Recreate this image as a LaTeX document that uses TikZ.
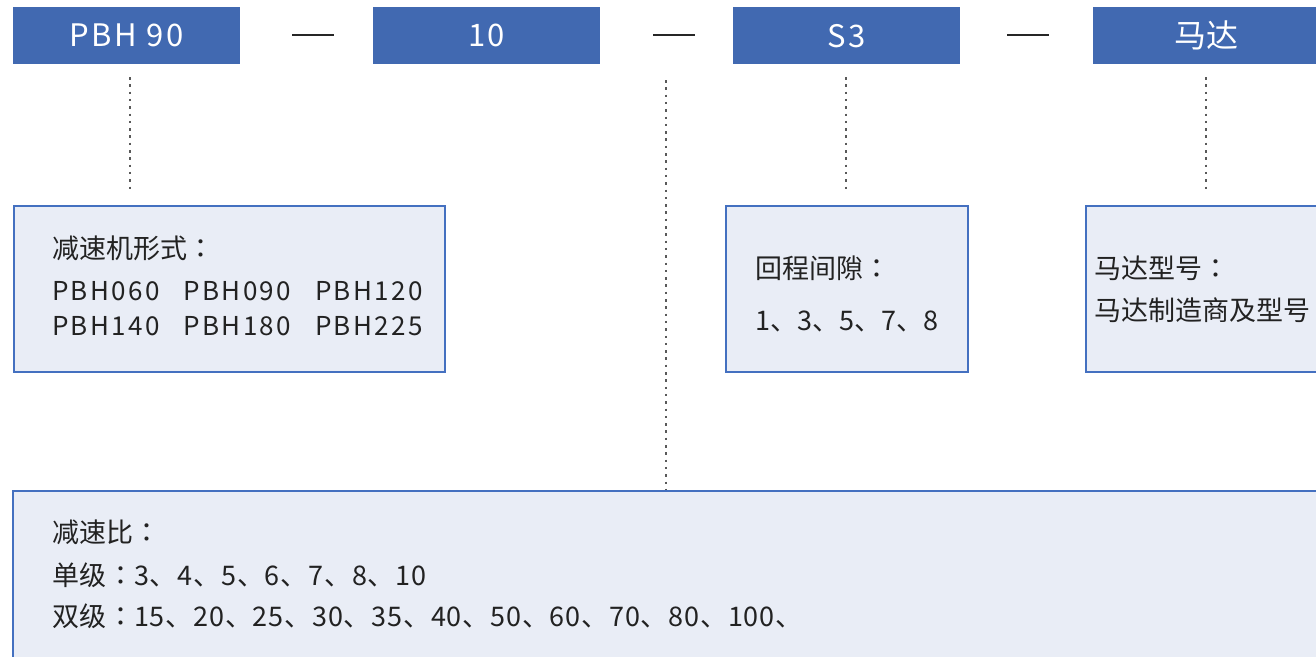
\documentclass[tikz,border=0pt]{standalone}
\usepackage{fontspec}
\setmainfont{Noto Sans CJK SC}
\newfontfamily\tcfont{Noto Sans CJK TC}
\newcommand{\cco}{{\tcfont ：}}
\definecolor{hdr}{HTML}{4169B1}
\definecolor{boxfill}{HTML}{E9EDF6}
\definecolor{boxline}{HTML}{4470C0}
\definecolor{txt}{HTML}{222222}
\tikzset{
  hdrbox/.style={fill=hdr, minimum width=227pt, minimum height=57pt, inner sep=0pt,
    text=white, font=\fontsize{31}{36}\selectfont\addfontfeature{LetterSpace=8}, anchor=north west},
  infobox/.style={draw=boxline, fill=boxfill, line width=1.6pt, inner sep=0pt, anchor=north west},
  infotext/.style={anchor=base west, inner sep=0pt, text=txt, font=\fontsize{27}{31}\selectfont},
  dotline/.style={draw=black!65, line width=1.3pt, dash pattern=on 2.5pt off 4.8pt},
  dashline/.style={draw=black!85, line width=1.2pt}
}
\begin{document}
\begin{tikzpicture}[x=1pt,y=-1pt]
\useasboundingbox (0,0) rectangle (1316,656);
\clip (0,0) rectangle (1316,656);
% header boxes
\node[hdrbox] (h1) at (13,7) {PBH 90};
\node[hdrbox] (h2) at (373,7) {10};
\node[hdrbox] (h3) at (733,7) {S3};
\node[hdrbox, minimum width=260pt, font=\fontsize{32}{36}\selectfont] (h4) at (1093,7) {\hspace*{-33pt}马达};
% separators
\coordinate (s1a) at (292,35); \coordinate (s1b) at (334,35);
\coordinate (s2a) at (653,35); \coordinate (s2b) at (695,35);
\coordinate (s3a) at (1007,35); \coordinate (s3b) at (1049,35);
\draw[dashline] (s1a) -- (s1b);
\draw[dashline] (s2a) -- (s2b);
\draw[dashline] (s3a) -- (s3b);
% info boxes
\node[infobox, minimum width=431pt, minimum height=166pt] (bA) at (13,205) {};
\node[infobox, minimum width=242pt, minimum height=166pt] (bB) at (725,205) {};
\node[infobox, minimum width=260pt, minimum height=166pt] (bC) at (1085,205) {};
\node[infobox, minimum width=1340pt, minimum height=200pt] (bD) at (12,490) {};
% dotted connectors
\coordinate (d1a) at (130,77); \coordinate (d1b) at (130,190);
\coordinate (d2a) at (666,80); \coordinate (d2b) at (666,489);
\coordinate (d3a) at (846,77); \coordinate (d3b) at (846,190);
\coordinate (d4a) at (1206,77); \coordinate (d4b) at (1206,190);
\draw[dotline] (d1a) -- (d1b);
\draw[dotline] (d2a) -- (d2b);
\draw[dotline] (d3a) -- (d3b);
\draw[dotline] (d4a) -- (d4b);
% texts
\node[infotext] (tA1) at (52,258) {减速机形式\cco};
\node[infotext, font=\fontsize{26}{30}\selectfont\addfontfeature{LetterSpace=9}] (tA2) at (52,300) {PBH060\hspace{24pt}PBH090\hspace{24pt}PBH120};
\node[infotext, font=\fontsize{26}{30}\selectfont\addfontfeature{LetterSpace=9}] (tA3) at (52,335) {PBH140\hspace{24pt}PBH180\hspace{24pt}PBH225};
\node[infotext] (tB1) at (755,278) {回程间隙\cco};
\node[infotext] (tB2) at (755,330) {1、3、5、7、8};
\node[infotext] (tC1) at (1094,278) {马达型号\cco};
\node[infotext] (tC2) at (1094,320) {马达制造商及型号};
\node[infotext] (tD1) at (52,542) {减速比\cco};
\node[infotext, font=\fontsize{27}{31}\selectfont\addfontfeature{LetterSpace=3}] (tD2) at (52,585) {单级\cco 3、4、5、6、7、8、10};
\node[infotext, font=\fontsize{27}{31}\selectfont\addfontfeature{LetterSpace=3}] (tD3) at (52,626) {双级\cco 15、20、25、30、35、40、50、60、70、80、100、};
\end{tikzpicture}
\end{document}
